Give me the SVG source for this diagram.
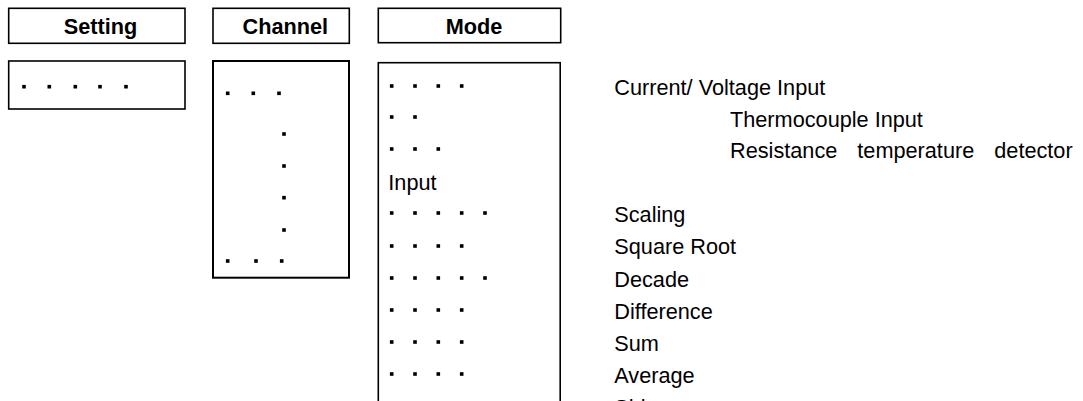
<svg xmlns="http://www.w3.org/2000/svg" xmlns:xlink="http://www.w3.org/1999/xlink" width="1083" height="401" viewBox="0 0 1083 401">
<style>
.box{fill:#fff;stroke:#000;stroke-width:1.6}
.hd{font-family:"Liberation Sans",Arial,sans-serif;font-weight:bold;font-size:21.7px;text-anchor:middle;fill:#000}
.tx{font-family:"Liberation Sans",Arial,sans-serif;font-size:21.7px;fill:#000}
</style>
<defs>
<rect id="dot" width="3.6" height="3.6" fill="#000"/>
</defs>
<rect width="1083" height="401" fill="#fff"/>
<g id="setting-header">
<rect class="box" x="8.7" y="8.3" width="176.3" height="35"/>
<text class="hd" x="100.5" y="34">Setting</text>
</g>
<g id="channel-header">
<rect class="box" x="213" y="8.3" width="136.3" height="35"/>
<text class="hd" x="285.3" y="34">Channel</text>
</g>
<g id="mode-header">
<rect class="box" x="378.3" y="8.3" width="182.4" height="34.4"/>
<text class="hd" x="474" y="34">Mode</text>
</g>
<g id="setting-body">
<rect class="box" x="8.7" y="61" width="176.3" height="48"/>
<use xlink:href="#dot" x="22.2" y="84.9"/>
<use xlink:href="#dot" x="47.5" y="84.9"/>
<use xlink:href="#dot" x="73.5" y="84.9"/>
<use xlink:href="#dot" x="98.2" y="84.9"/>
<use xlink:href="#dot" x="124.2" y="84.9"/>
</g>
<g id="channel-body">
<rect class="box" x="213" y="61" width="136" height="216.7" style="stroke-width:2"/>
<use xlink:href="#dot" x="225.9" y="91.5"/>
<use xlink:href="#dot" x="251.5" y="91.5"/>
<use xlink:href="#dot" x="277.2" y="91.5"/>
<use xlink:href="#dot" x="282.2" y="132.2"/>
<use xlink:href="#dot" x="282.2" y="164.2"/>
<use xlink:href="#dot" x="282.2" y="195.9"/>
<use xlink:href="#dot" x="282.2" y="228.2"/>
<use xlink:href="#dot" x="225.9" y="259.2"/>
<use xlink:href="#dot" x="254.2" y="259.2"/>
<use xlink:href="#dot" x="279.9" y="259.2"/>
</g>
<g id="mode-body">
<rect class="box" x="378.3" y="62.7" width="181.9" height="360"/>
<use xlink:href="#dot" x="389.9" y="84.2"/>
<use xlink:href="#dot" x="413.2" y="84.2"/>
<use xlink:href="#dot" x="436.5" y="84.2"/>
<use xlink:href="#dot" x="459.9" y="84.2"/>
<use xlink:href="#dot" x="389.9" y="115.2"/>
<use xlink:href="#dot" x="413.2" y="115.2"/>
<use xlink:href="#dot" x="389.9" y="147.2"/>
<use xlink:href="#dot" x="413.2" y="147.2"/>
<use xlink:href="#dot" x="436.5" y="147.2"/>
<text class="tx" x="388.3" y="190">Input</text>
<use xlink:href="#dot" x="389.9" y="211.2"/>
<use xlink:href="#dot" x="413.2" y="211.2"/>
<use xlink:href="#dot" x="436.5" y="211.2"/>
<use xlink:href="#dot" x="459.9" y="211.2"/>
<use xlink:href="#dot" x="483.2" y="211.2"/>
<use xlink:href="#dot" x="389.9" y="244.2"/>
<use xlink:href="#dot" x="413.2" y="244.2"/>
<use xlink:href="#dot" x="436.5" y="244.2"/>
<use xlink:href="#dot" x="459.9" y="244.2"/>
<use xlink:href="#dot" x="389.9" y="276.2"/>
<use xlink:href="#dot" x="413.2" y="276.2"/>
<use xlink:href="#dot" x="436.5" y="276.2"/>
<use xlink:href="#dot" x="459.9" y="276.2"/>
<use xlink:href="#dot" x="483.2" y="276.2"/>
<use xlink:href="#dot" x="389.9" y="308.2"/>
<use xlink:href="#dot" x="413.2" y="308.2"/>
<use xlink:href="#dot" x="436.5" y="308.2"/>
<use xlink:href="#dot" x="459.9" y="308.2"/>
<use xlink:href="#dot" x="389.9" y="340.2"/>
<use xlink:href="#dot" x="413.2" y="340.2"/>
<use xlink:href="#dot" x="436.5" y="340.2"/>
<use xlink:href="#dot" x="459.9" y="340.2"/>
<use xlink:href="#dot" x="389.9" y="372.2"/>
<use xlink:href="#dot" x="413.2" y="372.2"/>
<use xlink:href="#dot" x="436.5" y="372.2"/>
<use xlink:href="#dot" x="459.9" y="372.2"/>
</g>
<g id="mode-labels">
<text class="tx" x="614.3" y="95">Current/ Voltage Input</text>
<text class="tx" x="730" y="126.7">Thermocouple Input</text>
<text class="tx" x="730" y="158.3" word-spacing="14">Resistance temperature detector</text>
<text class="tx" x="614.3" y="222">Scaling</text>
<text class="tx" x="614.3" y="254.3">Square Root</text>
<text class="tx" x="614.3" y="286.7">Decade</text>
<text class="tx" x="614.3" y="318.7">Difference</text>
<text class="tx" x="614.3" y="350.7">Sum</text>
<text class="tx" x="614.3" y="382.5">Average</text>
<text class="tx" x="614.3" y="414.7">Shi</text>
</g>
<g id="connectors"/>
</svg>
